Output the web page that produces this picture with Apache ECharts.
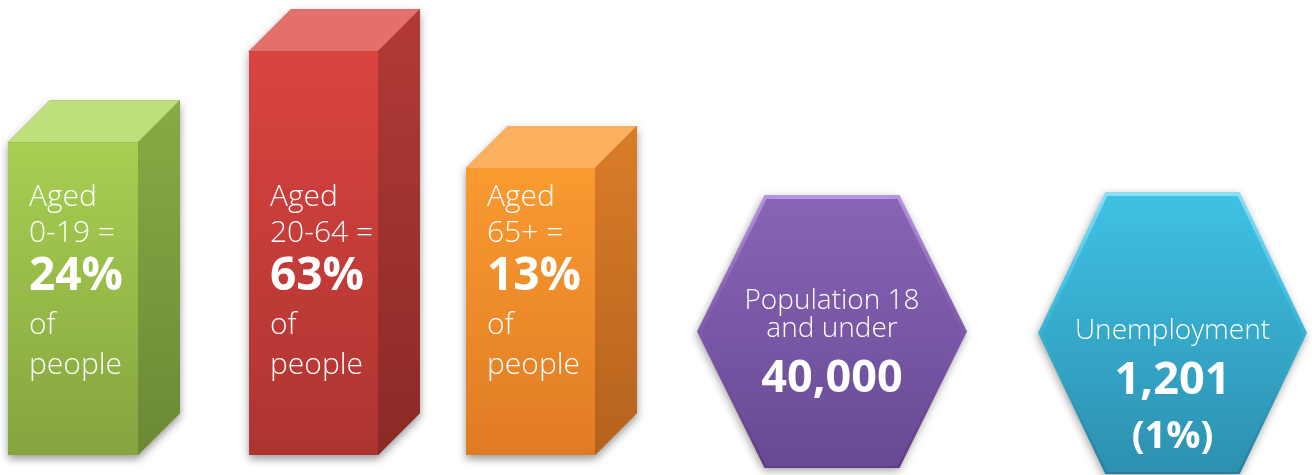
<!DOCTYPE html>
<html>
<head>
<meta charset="utf-8">
<script src="https://cdn.jsdelivr.net/npm/echarts@6/dist/echarts.min.js"></script>
<style>
  html, body { margin: 0; padding: 0; background: #ffffff; }
  #chart { width: 1312px; height: 475px; }
</style>
</head>
<body>
<div id="chart"></div>
<script>
// Age structure: share of people in each age band (%)
const ageBands = ['0-19', '20-64', '65+'];
const ageShares = [24, 63, 13];

// Headline figures shown in the hexagon tiles
const statTitles = ['Population 18\nand under', 'Unemployment'];
const statValues = [40000, 1201];
const statShares = [null, 1];

// Block colours: [top face, front light, front dark, side light, side dark]
const barPalette = [
  ['#bedf7c', '#a8cf52', '#86a43f', '#88ab45', '#6a8934'],
  ['#e4706c', '#da4440', '#ad3431', '#b23a36', '#8a2a27'],
  ['#fbb05e', '#fa9a30', '#e07b25', '#da7d28', '#b5621e']
];
// Hexagon colours: [bevel light, fill light, fill dark, bevel dark]
const hexPalette = [
  ['#b596e0', '#8a64b6', '#674a93', '#5a3f84'],
  ['#8edff4', '#3fc1e4', '#2d90b0', '#267f9c']
];

// Panel layout
const barPanels = [
  { left: 8, width: 130 },
  { left: 249, width: 129 },
  { left: 466, width: 129 }
];
const hexPanels = [
  { left: 697, width: 270, top: 195, height: 273 },
  { left: 1038, width: 269, top: 192, height: 282 }
];

const FONT = '"Open Sans", "Noto Sans", sans-serif';
const LIGHT = 300;
const DEPTH = 42;
const Y_MIN = -110;
const Y_MAX = 70;

function vGrad(stops) {
  return new echarts.graphic.LinearGradient(0, 0, 0, 1, stops.map(function (s) {
    return { offset: s[0], color: s[1] };
  }));
}

function fmt(n) {
  return n.toLocaleString('en-US');
}

function renderBlock(i) {
  return function (params, api) {
    const share = api.value(1);
    const top = api.coord([api.value(0), share]);
    const base = api.coord([api.value(0), Y_MIN]);
    const w = api.size([1, 0])[0];
    const x0 = top[0] - w / 2;
    const x1 = top[0] + w / 2;
    const yT = top[1];
    const yB = base[1];
    const d = DEPTH;
    const c = barPalette[i];
    const txt = '{a|Aged}\n{a|' + ageBands[i] + ' =}\n{b|' + share + '%}\n{c|of}\n{a|people}';
    return {
      type: 'group',
      children: [
        {
          type: 'polygon',
          shape: { points: [[x0, yT], [x0 + d, yT - d], [x1 + d, yT - d], [x1 + d, yB - d], [x1, yB], [x0, yB]] },
          style: { fill: c[4], shadowBlur: 9, shadowColor: 'rgba(0,0,0,0.4)', shadowOffsetY: 4 }
        },
        {
          type: 'polygon',
          shape: { points: [[x0, yT], [x0 + d, yT - d], [x1 + d, yT - d], [x1, yT]] },
          style: { fill: c[0] }
        },
        {
          type: 'polygon',
          shape: { points: [[x1, yT], [x1 + d, yT - d], [x1 + d, yB - d], [x1, yB]] },
          style: { fill: vGrad([[0, c[3]], [1, c[4]]]) }
        },
        {
          type: 'rect',
          shape: { x: x0, y: yT, width: w, height: yB - yT },
          style: { fill: vGrad([[0, c[1]], [1, c[2]]]) }
        },
        {
          type: 'text',
          x: x0 + 21,
          y: yB - 276,
          style: {
            text: txt,
            align: 'left',
            verticalAlign: 'top',
            fill: '#ffffff',
            fontFamily: FONT,
            rich: {
              a: { fill: '#ffffff', fontFamily: FONT, fontWeight: LIGHT, fontSize: 30, lineHeight: 36 },
              b: { fill: '#ffffff', fontFamily: FONT, fontSize: 46, fontWeight: 'bold', lineHeight: 52 },
              c: { fill: '#ffffff', fontFamily: FONT, fontWeight: LIGHT, fontSize: 30, lineHeight: 44 }
            }
          }
        }
      ]
    };
  };
}

function hexPoints(cx, cy, hw, hh) {
  return [
    [cx - hw, cy], [cx - hw / 2, cy - hh], [cx + hw / 2, cy - hh],
    [cx + hw, cy], [cx + hw / 2, cy + hh], [cx - hw / 2, cy + hh]
  ];
}

function renderHex(i) {
  return function (params, api) {
    const cs = params.coordSys;
    const cx = cs.x + cs.width / 2;
    const cy = cs.y + cs.height / 2;
    const hw = cs.width / 2;
    const hh = cs.height / 2;
    const c = hexPalette[i];
    const value = api.value(1);
    const share = statShares[i];
    let valTxt = '{v|' + fmt(value) + '}';
    if (share !== null) valTxt += '\n{s|(' + share + '%)}';
    return {
      type: 'group',
      children: [
        {
          type: 'polygon',
          shape: { points: hexPoints(cx, cy, hw, hh) },
          style: {
            fill: vGrad([[0, c[0]], [0.35, c[1]], [1, c[3]]]),
            shadowBlur: 8, shadowColor: 'rgba(0,0,0,0.35)', shadowOffsetY: 3, shadowOffsetX: -1
          }
        },
        {
          type: 'polygon',
          shape: { points: hexPoints(cx, cy + 1, hw - 4, hh - 3) },
          style: { fill: vGrad([[0, c[1]], [1, c[2]]]) }
        },
        {
          type: 'text',
          x: cx,
          y: cy + 12,
          style: {
            text: statTitles[i],
            align: 'center',
            verticalAlign: 'bottom',
            fill: '#ffffff',
            fontFamily: FONT,
            fontWeight: LIGHT,
            fontSize: 28,
            lineHeight: 28
          }
        },
        {
          type: 'text',
          x: cx,
          y: cy + 20,
          style: {
            text: valTxt,
            align: 'center',
            verticalAlign: 'top',
            fill: '#ffffff',
            fontFamily: FONT,
            rich: {
              v: { fill: '#ffffff', fontFamily: FONT, fontSize: 45, fontWeight: 'bold', lineHeight: 56, align: 'center' },
              s: { fill: '#ffffff', fontFamily: FONT, fontSize: 38, fontWeight: 'bold', lineHeight: 56, align: 'center' }
            }
          }
        }
      ]
    };
  };
}

const grid = [];
const xAxis = [];
const yAxis = [];
const series = [];

barPanels.forEach(function (p, i) {
  grid.push({ left: p.left, width: p.width, top: 35, bottom: 20 });
  xAxis.push({ type: 'category', gridIndex: i, data: [ageBands[i]], show: false });
  yAxis.push({ type: 'value', gridIndex: i, min: Y_MIN, max: Y_MAX, show: false });
  series.push({
    type: 'custom',
    name: 'Aged ' + ageBands[i],
    xAxisIndex: i,
    yAxisIndex: i,
    renderItem: renderBlock(i),
    data: [[0, ageShares[i]]]
  });
});

hexPanels.forEach(function (p, j) {
  const k = barPanels.length + j;
  grid.push({ left: p.left, width: p.width, top: p.top, height: p.height });
  xAxis.push({ type: 'category', gridIndex: k, data: [statTitles[j].replace('\n', ' ')], show: false });
  yAxis.push({ type: 'value', gridIndex: k, min: 0, max: statValues[j], show: false });
  series.push({
    type: 'custom',
    name: statTitles[j].replace('\n', ' '),
    xAxisIndex: k,
    yAxisIndex: k,
    renderItem: renderHex(j),
    data: [[0, statValues[j]]]
  });
});

const chart = echarts.init(document.getElementById('chart'), null, { renderer: 'canvas' });
chart.setOption({
  backgroundColor: '#ffffff',
  animation: false,
  grid: grid,
  xAxis: xAxis,
  yAxis: yAxis,
  series: series
});
</script>
</body>
</html>
